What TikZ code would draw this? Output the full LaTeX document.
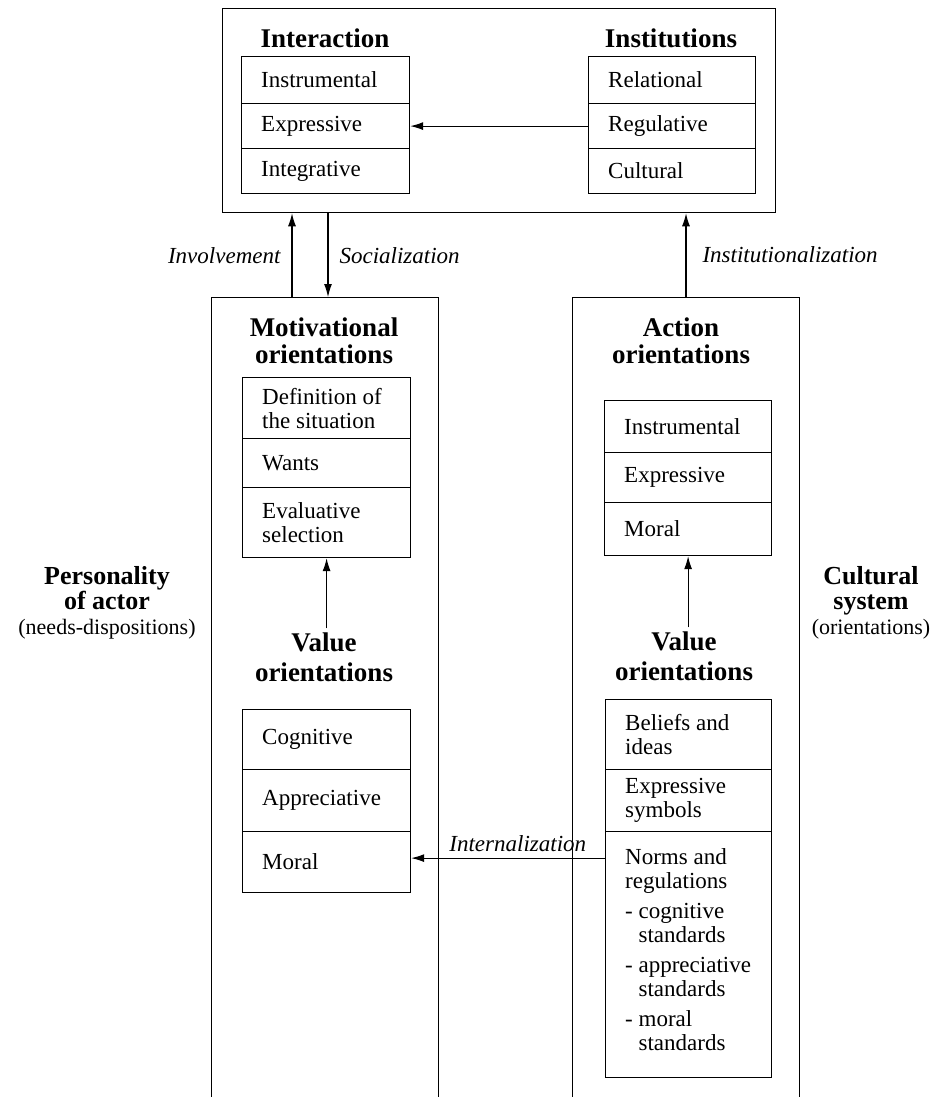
\documentclass[tikz,border=0pt]{standalone}
\usepackage{fontspec}
\setmainfont{Liberation Serif}
\usetikzlibrary{arrows.meta,calc}
\newcommand\cellbox[6]{%
  \node[cell, minimum width=#4pt, minimum height=#5pt] (#1) at (#2,#3) {};
  \node[celltext] (#1t) at ([xshift=20pt]#1.west) {#6};}
\begin{document}
\begin{tikzpicture}[x=1pt,y=-1pt,
  cell/.style={draw, line width=1.2pt, inner sep=0pt, anchor=north west},
  celltext/.style={anchor=west, inner sep=0pt, align=left, font=\fontsize{23}{24}\selectfont},
  title/.style={align=center, inner sep=4pt, font=\bfseries\fontsize{27}{27}\selectfont},
  lab/.style={inner sep=1pt, font=\itshape\fontsize{23}{24}\selectfont},
  side/.style={align=center, inner sep=0pt, font=\bfseries\fontsize{26}{25}\selectfont},
  big/.style={line width=0.8pt},
  arr/.style={line width=1.1pt, -{Latex[length=13pt,width=8pt]}},
  frame/.style={minimum width=226pt, minimum height=800pt, anchor=north, inner sep=0pt}]
\useasboundingbox (0,0) rectangle (941,1097);

% top box
\node[draw, line width=1.3pt, minimum width=553pt, minimum height=204pt, anchor=north west, inner sep=0pt] (top) at (222,8) {};
\node[title] (tint) at (325,38) {Interaction};
\node[title] (tins) at (671,38) {Institutions};
\cellbox{ia}{241}{56}{168}{47}{Instrumental}
\cellbox{ib}{241}{103}{168}{45}{Expressive}
\cellbox{ic}{241}{148}{168}{45}{Integrative}
\cellbox{sa}{588}{56}{167}{47}{Relational}
\cellbox{sb}{588}{103}{167}{45}{Regulative}
\cellbox{sc}{588}{148}{167}{45}{Cultural}
\draw[arr] (sb.west) -- (ib.east);

% side frames
\node[frame] (L) at (325,297) {};
\node[frame] (R) at (686,297) {};
\draw[big] (L.south west) -- (L.north west) -- (L.north east) -- (L.south east);
\draw[big] (R.south west) -- (R.north west) -- (R.north east) -- (R.south east);

\draw[arr] ([xshift=-33pt]L.north) -- ([xshift=-33pt]L.north |- top.south)
  node[lab, left=10pt, pos=0.5] (linv) {Involvement};
\draw[arr] ([xshift=3pt]L.north |- top.south) -- ([xshift=3pt]L.north)
  node[lab, right=10pt, pos=0.5] (lsoc) {Socialization};
\draw[arr] (R.north) -- (R.north |- top.south)
  node[lab, right=15pt, pos=0.5] (linst) {Institutionalization};

% left column
\node[title] (tmot) at (324,341) {Motivational\\orientations};
\cellbox{ma}{242}{377}{168}{61}{Definition of\\the situation}
\cellbox{mb}{242}{438}{168}{49}{Wants}
\cellbox{mc}{242}{487}{168}{70}{Evaluative\\selection}
\node[title, font=\bfseries\fontsize{27}{30}\selectfont] (tvl) at (324,657) {Value\\orientations};
\draw[arr] (mc.south |- tvl.north) -- (mc.south);
\cellbox{va}{242}{709}{168}{60}{Cognitive}
\cellbox{vb}{242}{769}{168}{62}{Appreciative}
\cellbox{vc}{242}{831}{168}{61}{Moral}

% right column
\node[title] (tact) at (681,341) {Action\\orientations};
\cellbox{aa}{604}{400}{167}{52}{Instrumental}
\cellbox{ab}{604}{452}{167}{50}{Expressive}
\cellbox{ac}{604}{502}{167}{53}{Moral}
\node[title, font=\bfseries\fontsize{27}{30}\selectfont] (tvr) at (684,656) {Value\\orientations};
\draw[arr] (ac.south |- tvr.north) -- (ac.south);
\cellbox{ca}{605}{699}{166}{70}{Beliefs and\\ideas}
\cellbox{cb}{605}{769}{166}{62}{Expressive\\symbols}
\node[cell, minimum width=166pt, minimum height=246pt] (cc) at (605,831) {};
\node[celltext, anchor=north west] (cct) at ([xshift=20pt,yshift=-17pt]cc.north west)
  {Norms and\\regulations\\[6pt]- cognitive\\\phantom{- }standards\\[6pt]- appreciative\\\phantom{- }standards\\[6pt]- moral\\\phantom{- }standards};

\draw[arr] ([yshift=4pt]cc.west |- vc.east) -- ([yshift=4pt]vc.east)
  node[lab, above=5pt, pos=0.45] (lint) {Internalization};

% side labels
\node[side] (pers) at (107,603) {Personality\\of actor\\{\mdseries\fontsize{22}{25}\selectfont (needs-dispositions)}};
\node[side] (cult) at (871,603) {Cultural\\system\\{\mdseries\fontsize{22}{25}\selectfont (orientations)}};
\end{tikzpicture}
\end{document}
